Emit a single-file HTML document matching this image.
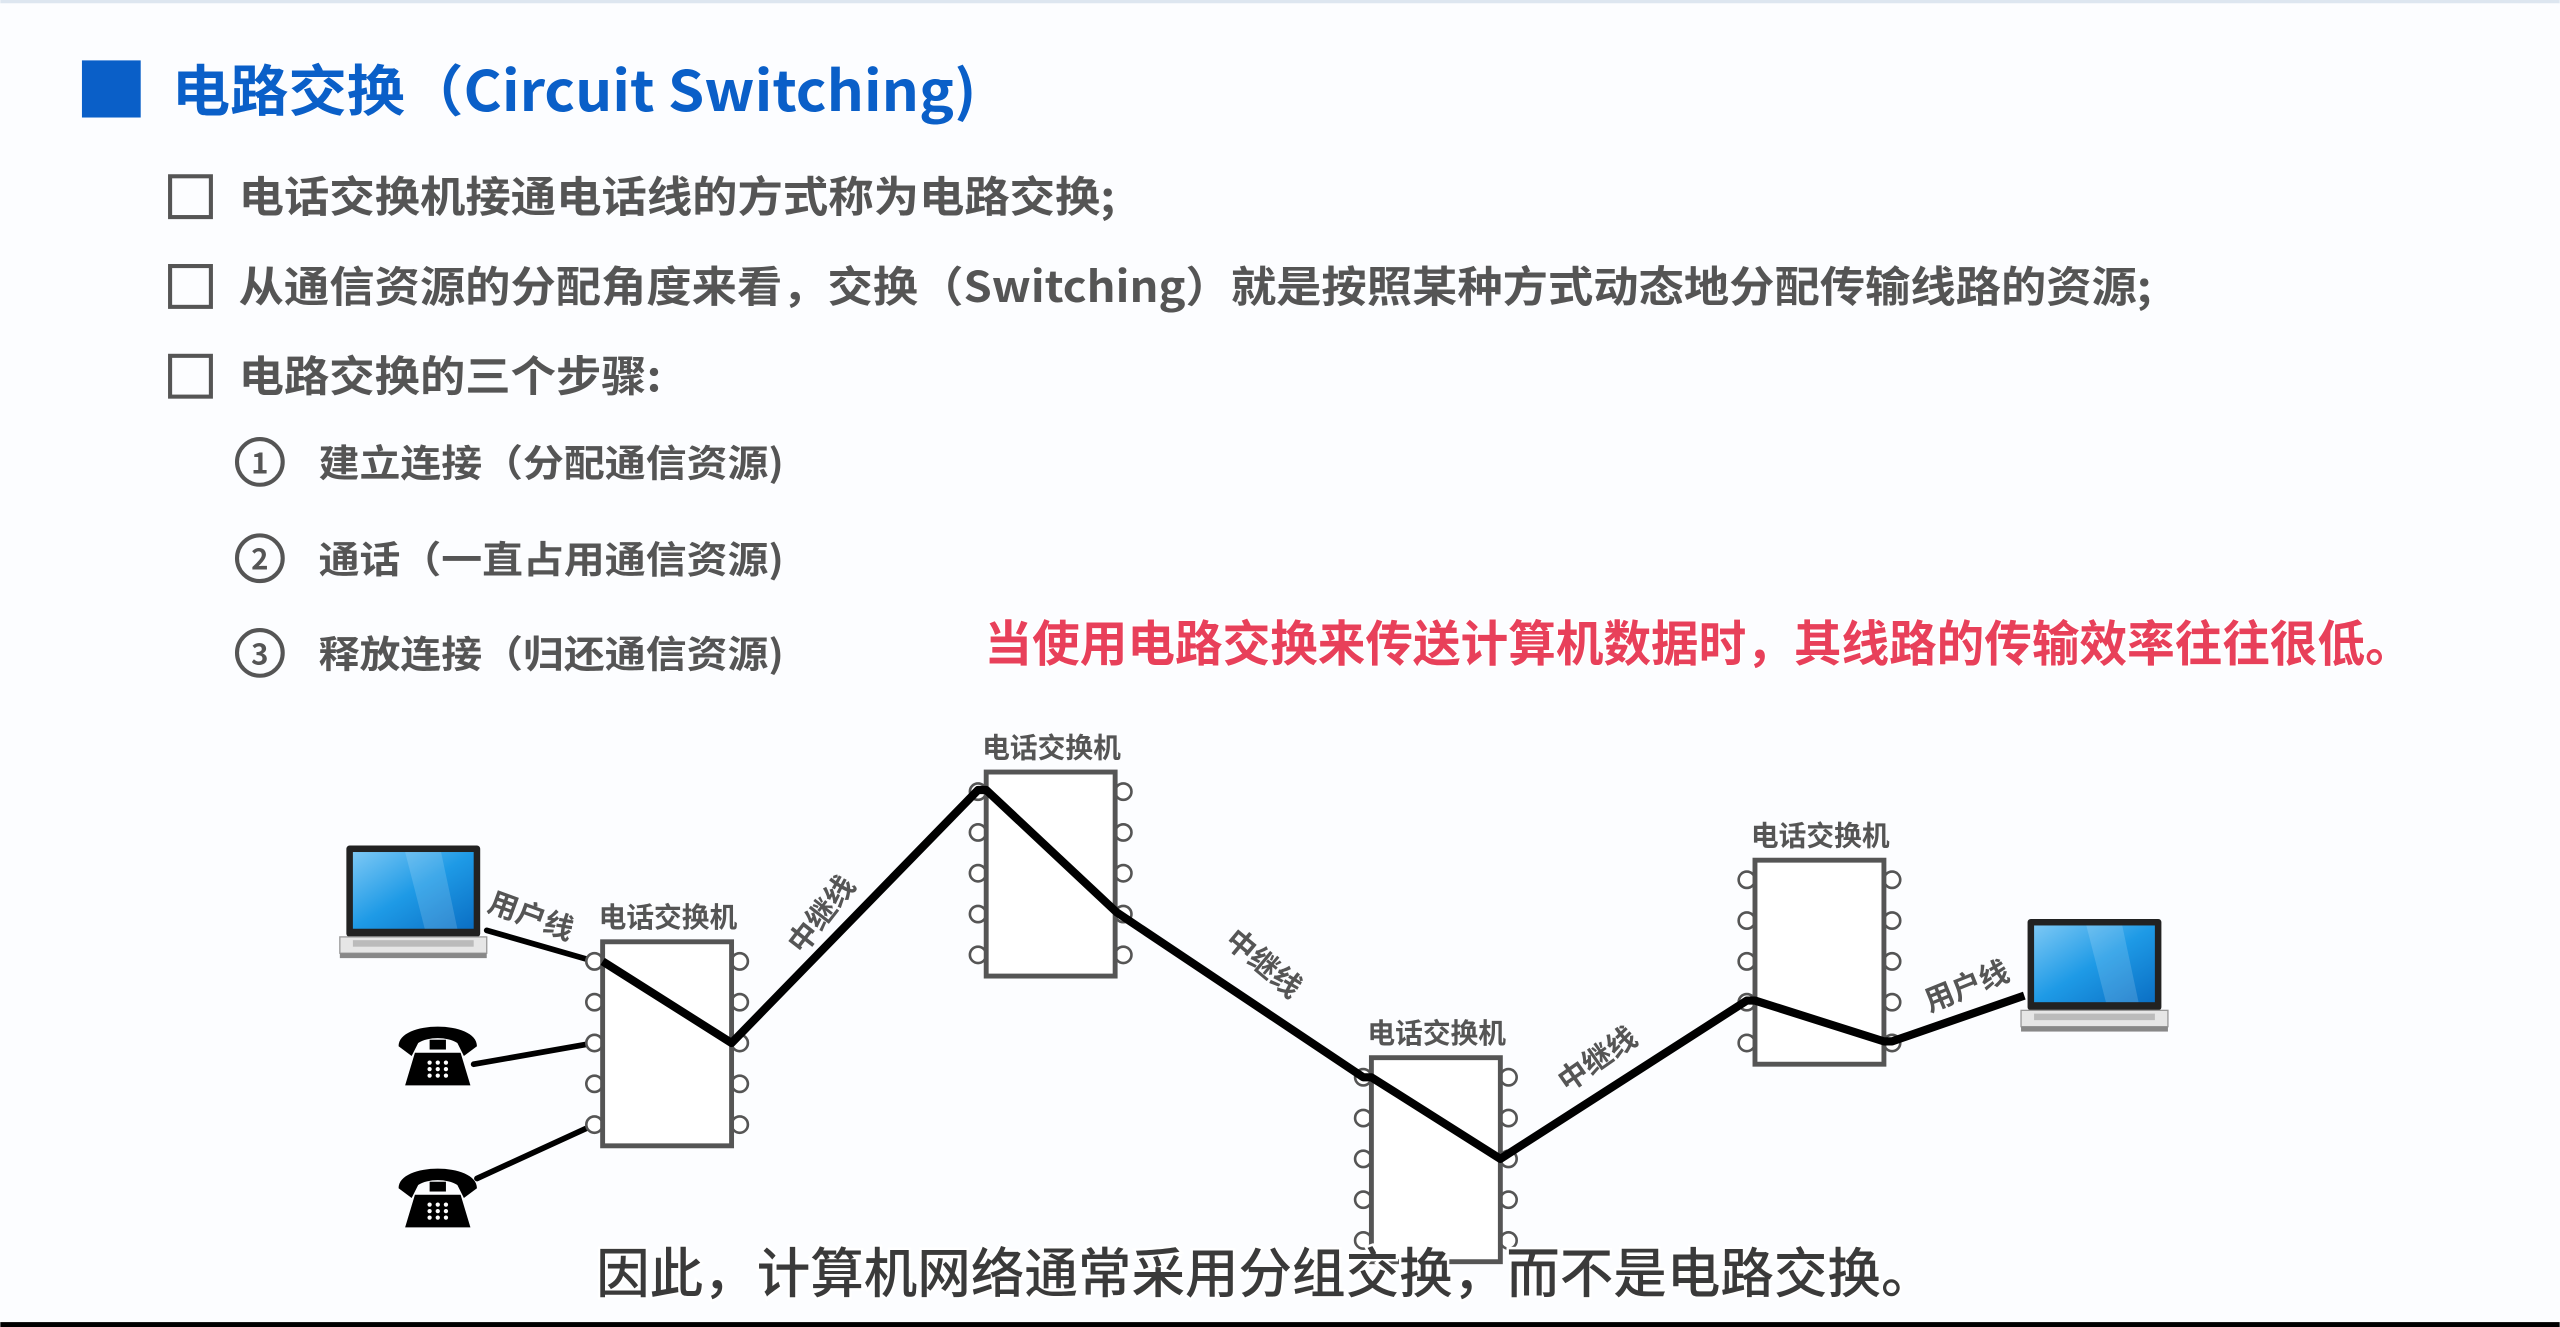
<!DOCTYPE html>
<html><head><meta charset="utf-8"><style>
html,body{margin:0;padding:0;background:#fcfdff;overflow:hidden}
svg{display:block}
text{font-family:"Noto Sans CJK SC","Liberation Sans",sans-serif;font-weight:bold}
</style></head><body>
<svg width="2560" height="1327" viewBox="0 0 1568 813" xmlns="http://www.w3.org/2000/svg">
<defs>
<linearGradient id="scr" x1="0" y1="0" x2="1" y2="1"><stop offset="0" stop-color="#7cc8f5"/><stop offset="0.5" stop-color="#1e9ae6"/><stop offset="1" stop-color="#0b6fc4"/></linearGradient>
<g id="laptop">
<rect x="4" y="0" width="82" height="56" rx="2" fill="#222"/>
<rect x="8" y="4" width="74" height="47" fill="url(#scr)"/>
<polygon points="40,4 62,4 72,51 52,51" fill="#fff" opacity="0.15"/>
<rect x="0" y="56" width="90" height="10" fill="#e6e6e6" stroke="#999" stroke-width="0.8"/>
<rect x="8" y="58" width="74" height="4" fill="#bbb"/>
<rect x="0" y="66" width="90" height="3" fill="#888"/>
</g>
<g id="phone">
<path d="M-24,-2 C-24,-18 24,-18 24,-2 L16,4 L12,-4 C6,-8 -6,-8 -12,-4 L-16,4 Z" fill="#000"/>
<rect x="-5" y="-6" width="10" height="6" fill="#000"/>
<path d="M-14,2 L14,2 L20,22 L-20,22 Z" fill="#000"/>
<g fill="#fff"><circle cx="-5" cy="8" r="1.3"/><circle cx="0" cy="8" r="1.3"/><circle cx="5" cy="8" r="1.3"/><circle cx="-5" cy="12" r="1.3"/><circle cx="0" cy="12" r="1.3"/><circle cx="5" cy="12" r="1.3"/><circle cx="-5" cy="16" r="1.3"/><circle cx="0" cy="16" r="1.3"/><circle cx="5" cy="16" r="1.3"/></g>
</g>
<g id="sw">
<g fill="#fff" stroke="#555" stroke-width="1.6">
<circle cx="-5" cy="12" r="5"/><circle cx="-5" cy="37" r="5"/><circle cx="-5" cy="62" r="5"/><circle cx="-5" cy="87" r="5"/><circle cx="-5" cy="112" r="5"/>
<circle cx="84" cy="12" r="5"/><circle cx="84" cy="37" r="5"/><circle cx="84" cy="62" r="5"/><circle cx="84" cy="87" r="5"/><circle cx="84" cy="112" r="5"/>
</g>
<rect x="0" y="0" width="79" height="125" fill="#fff" stroke="#555" stroke-width="3"/>
<text x="40" y="-9" font-size="17" fill="#555" text-anchor="middle">电话交换机</text>
</g>
</defs>
<rect x="0" y="0" width="1568" height="2" fill="#dde6f0"/>
<rect x="50" y="37" width="36" height="35" fill="#0a5fc8"/>
<text x="105" y="68" font-size="34" fill="#0a5fc8" textLength="493" lengthAdjust="spacingAndGlyphs">电路交换（Circuit Switching)</text>
<g fill="none" stroke="#555" stroke-width="2.5">
<rect x="104" y="108" width="25" height="25"/><rect x="104" y="163" width="25" height="25"/><rect x="104" y="218" width="25" height="25"/>
<circle cx="159" cy="283" r="14"/><circle cx="159" cy="342" r="14"/><circle cx="159" cy="400" r="14"/>
</g>
<g fill="#555" font-size="26">
<text x="146" y="130" textLength="537" lengthAdjust="spacingAndGlyphs">电话交换机接通电话线的方式称为电路交换;</text>
<text x="146" y="185" textLength="1172" lengthAdjust="spacingAndGlyphs">从通信资源的分配角度来看，交换（Switching）就是按照某种方式动态地分配传输线路的资源;</text>
<text x="146" y="240" textLength="259" lengthAdjust="spacingAndGlyphs">电路交换的三个步骤:</text>
<g font-size="18" text-anchor="middle"><text x="159" y="290">1</text><text x="159" y="349">2</text><text x="159" y="407">3</text></g>
<g font-size="23"><text x="195" y="292" textLength="285" lengthAdjust="spacingAndGlyphs">建立连接（分配通信资源)</text>
<text x="195" y="351" textLength="285" lengthAdjust="spacingAndGlyphs">通话（一直占用通信资源)</text>
<text x="195" y="409" textLength="285" lengthAdjust="spacingAndGlyphs">释放连接（归还通信资源)</text></g>
</g>
<text x="603" y="405" font-size="30" fill="#e8405a" stroke="#fff" stroke-width="1.5" paint-order="stroke" textLength="875" lengthAdjust="spacingAndGlyphs">当使用电路交换来传送计算机数据时，其线路的传输效率往往很低。</text>
<use href="#laptop" x="208" y="518"/>
<use href="#laptop" x="1238" y="563"/>
<use href="#phone" x="268" y="643"/>
<use href="#phone" x="268" y="730"/>
<g stroke="#000" stroke-width="3.5" stroke-linecap="round">
<line x1="298" y1="570" x2="364" y2="589"/>
<line x1="290" y1="652" x2="364" y2="639"/>
<line x1="292" y1="722" x2="364" y2="689"/>
</g>
<use href="#sw" x="369" y="577"/>
<use href="#sw" x="604" y="473"/>
<use href="#sw" x="840" y="648"/>
<use href="#sw" x="1075" y="527"/>
<polyline points="369,589 448,639 599,484 604,484 684,559 835,660 840,660 919,710 1070,613 1075,613 1154,638 1159,638 1240,610" fill="none" stroke="#000" stroke-width="5" stroke-linejoin="round"/>
<g fill="#555" font-size="18">
<text transform="translate(323,567) rotate(20)" text-anchor="middle">用户线</text>
<text transform="translate(508,564) rotate(-52)" text-anchor="middle">中继线</text>
<text transform="translate(770,595) rotate(40)" text-anchor="middle">中继线</text>
<text transform="translate(982,654) rotate(-35)" text-anchor="middle">中继线</text>
<text transform="translate(1207,610) rotate(-22)" text-anchor="middle">用户线</text>
</g>
<text x="365" y="792" font-size="33" fill="#3a3a3a" stroke="#fff" stroke-width="3" paint-order="stroke" textLength="820" lengthAdjust="spacingAndGlyphs" style="font-weight:500">因此，计算机网络通常采用分组交换，而不是电路交换。</text>
<rect x="0" y="810" width="1568" height="3" fill="#000"/>
</svg>
</body></html>
